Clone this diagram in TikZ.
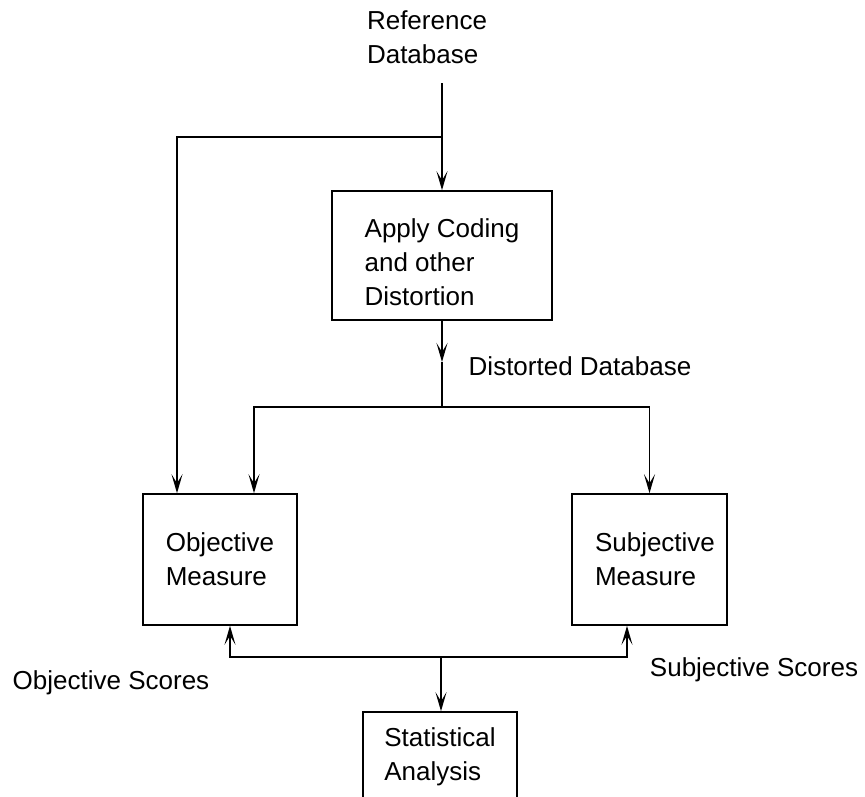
\documentclass[tikz,border=0pt]{standalone}
\usepackage{fontspec}
\setmainfont{Liberation Sans}
\usetikzlibrary{arrows.meta}
\begin{document}
\begin{tikzpicture}[x=1pt,y=-1pt,
  every node/.style={font=\fontsize{26}{34}\selectfont},
  box/.style={draw, line width=1.6pt, inner sep=0pt, align=left},
  conn/.style={line width=1.5pt},
  arr/.style={conn, -{Stealth[length=19pt,width=11pt,inset=9pt]}},
  lbl/.style={inner sep=0pt, align=left}]
\useasboundingbox (0,0) rectangle (865,796);
\clip (0,0) rectangle (865,796);
% nodes
\node[lbl] (ref) at (427,37) {Reference\\Database};
\node[box, minimum width=220pt, minimum height=129pt] (apply) at (442,255.5) {\rule{0pt}{33pt}Apply Coding\\and other\\Distortion};
\node[box, minimum width=154pt, minimum height=131pt] (obj) at (220,559.5) {Objective\\Measure};
\node[box, minimum width=155pt, minimum height=131pt, text width=109pt] (subj) at (649.5,559.5) {\mbox{Subjective}\\\mbox{Measure}};
\node[box, minimum width=154pt, minimum height=118pt] (stat) at (440,771) {Statistical\\Analysis\\ \mbox{}};
\node[lbl] (dist) at (580,366) {Distorted Database};
\node[lbl] (objs) at (111,683) {Objective Scores};
\node[lbl] (subjs) at (754,670) {Subjective Scores};
% coordinates
\coordinate (rtop) at (442,83);
\coordinate (rsplit) at (442,137);
\coordinate (lcorner) at (177,137);
\coordinate (dtip) at (442,362);
\coordinate (djunc) at (442,407);
\coordinate (dl) at (254,407);
\coordinate (dr) at (649.5,407);
\coordinate (sjunc) at (441,657);
\coordinate (sl) at (230,657);
\coordinate (sr) at (627,657);
% connectors
\draw[arr] (rtop) -- (apply.north);
\draw[arr] (rsplit) -- (lcorner) -- (lcorner |- obj.north);
\draw[arr] (apply.south) -- (dtip);
\draw[conn] (dtip) -- (djunc);
\draw[arr] (djunc) -- (dl) -- (dl |- obj.north);
\draw[arr] (djunc) -- (dr) -- (dr |- subj.north);
\draw[arr] (sjunc) -- (sl) -- (sl |- obj.south);
\draw[arr] (sjunc) -- (sr) -- (sr |- subj.south);
\draw[arr] (sjunc) -- (sjunc |- stat.north);
\end{tikzpicture}
\end{document}
